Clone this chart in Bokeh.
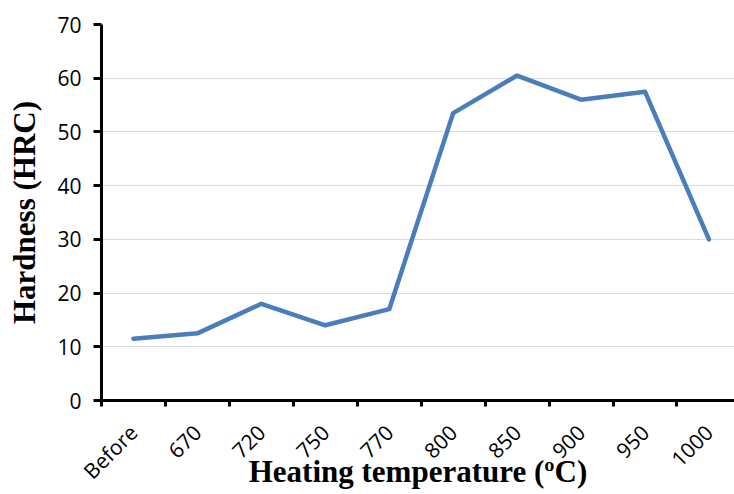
import math
from bokeh.plotting import figure
from bokeh.models import Range1d, FixedTicker
from bokeh.embed import file_html
from bokeh.resources import INLINE

categories = ["Before", "670", "720", "750", "770", "800", "850", "900", "950", "1000"]
hardness = [11.5, 12.5, 18, 14, 17, 53.5, 60.5, 56, 57.5, 30]
y_ticks = [0, 10, 20, 30, 40, 50, 60, 70]

xs = [i + 0.5 for i in range(len(categories))]

p = figure(width=734, height=494, output_backend="svg", toolbar_location=None,
           x_range=Range1d(0, 9.9), y_range=Range1d(0, 70),
           min_border_left=101, min_border_top=24, min_border_bottom=94, min_border_right=0)
p.outline_line_color = None
p.background_fill_color = "white"

p.line(xs, hardness, line_color="#4a7ebb", line_width=4.5, line_join="round", line_cap="round")

xa = p.xaxis[0]
xa.ticker = FixedTicker(ticks=xs, minor_ticks=list(range(len(categories) + 1)))
xa.major_label_overrides = {x: c for x, c in zip(xs, categories)}
xa.major_label_orientation = math.pi / 4
xa.major_tick_out = 0
xa.major_tick_in = 0
xa.minor_tick_out = 6
xa.minor_tick_in = 0
xa.minor_tick_line_width = 3
xa.minor_tick_line_color = "black"
xa.axis_line_width = 3
xa.axis_line_color = "black"
xa.major_label_text_font = "Open Sans"
xa.major_label_text_font_size = "21px"
xa.major_label_text_color = "black"
xa.major_label_standoff = 22
xa.axis_label = "Heating temperature (ºC)"
xa.axis_label_text_font = "Liberation Serif"
xa.axis_label_text_font_style = "bold"
xa.axis_label_text_font_size = "31px"
xa.axis_label_text_color = "black"
xa.axis_label_standoff = -44

ya = p.yaxis[0]
ya.ticker = FixedTicker(ticks=y_ticks)
ya.minor_tick_out = 0
ya.minor_tick_in = 0
ya.major_tick_out = 8
ya.major_tick_in = 0
ya.major_tick_line_width = 3
ya.major_tick_line_color = "black"
ya.axis_line_width = 3
ya.axis_line_color = "black"
ya.major_label_text_font = "Open Sans"
ya.major_label_text_font_size = "21px"
ya.major_label_text_color = "black"
ya.major_label_standoff = 12
ya.axis_label = "Hardness (HRC)"
ya.axis_label_text_font = "Liberation Serif"
ya.axis_label_text_font_style = "bold"
ya.axis_label_text_font_size = "31px"
ya.axis_label_text_color = "black"
ya.axis_label_standoff = 12

p.xgrid.grid_line_color = None
p.ygrid.ticker = FixedTicker(ticks=y_ticks)
p.ygrid.grid_line_color = "#d9d9d9"
p.ygrid.grid_line_width = 1

open("out.html", "w").write(file_html(p, INLINE))
